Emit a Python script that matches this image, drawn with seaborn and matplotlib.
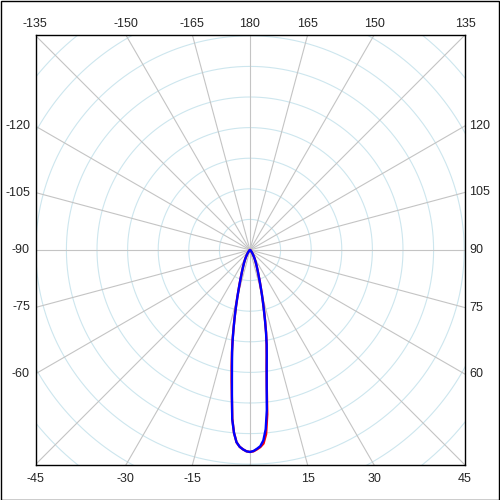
import numpy as np
import pandas as pd
import matplotlib
matplotlib.use("Agg")
import matplotlib.pyplot as plt
import seaborn as sns
from matplotlib.patches import Rectangle

sns.set_style("white")
plt.rcParams['font.family'] = ['Liberation Sans', 'DejaVu Sans']

# ---- data (intensity in cd, angle gamma in degrees, 0 = straight down) ----
angles = [-90, -70, -60, -50, -45, -40, -35, -30, -27.5, -25, -22.5, -20, -18, -17, -16,
          -15, -14, -13, -12, -11, -10, -9, -8, -7, -6, -5, -4, -3, -2, -1,
          0, 1, 2, 3, 4, 5, 6, 7, 8, 9, 10, 11, 12, 13, 14, 15, 16, 17, 18,
          20, 22.5, 25, 27.5, 30, 35, 40, 45, 50, 60, 70, 90]

blue_cd = [0, 2, 5, 13, 25, 41, 77, 133, 175, 228, 295, 390, 505, 585, 680,
           800, 940, 1100, 1280, 1480, 1680, 1880, 2120, 2420, 2780, 3000, 3150, 3220, 3260, 3290,
           3300, 3285, 3250, 3210, 3120, 2940, 2630, 2240, 1960, 1750, 1570, 1370, 1180, 1010, 870, 750, 640, 555, 480,
           375, 285, 220, 170, 130, 75, 40, 25, 13, 5, 2, 0]

red_cd = [0, 2, 5, 13, 25, 41, 77, 133, 175, 228, 295, 390, 505, 585, 680,
          800, 940, 1100, 1280, 1490, 1700, 1920, 2160, 2430, 2770, 3000, 3150, 3220, 3260, 3290,
          3300, 3290, 3260, 3225, 3170, 3020, 2700, 2250, 1950, 1740, 1560, 1380, 1190, 1020, 875, 750, 640, 555, 480,
          375, 285, 220, 170, 130, 75, 40, 25, 13, 5, 2, 0]

grid_step = 500
grid_radii = [500, 1000, 1500, 2000, 2500, 3000, 3500, 4000, 4500, 5000]
spoke_angles = list(range(-180, 180, 15))

top_labels = [-135, -150, -165, 180, 165, 150, 135]
left_labels = [-120, -105, -90, -75, -60]
right_labels = [120, 105, 90, 75, 60]
bottom_labels = [-45, -30, -15, 15, 30, 45]

# ---- geometry ----
px = grid_step / 30.6          # cd per pixel
xmin, xmax = -214 * px, 215 * px
ymin, ymax = -215 * px, 215 * px


def to_xy(ang, r):
    a = np.deg2rad(np.asarray(ang, dtype=float))
    r = np.asarray(r, dtype=float)
    return r * np.sin(a), -r * np.cos(a)


fig = plt.figure(figsize=(5, 5), dpi=100)
ax = fig.add_axes([36 / 500, 35 / 500, 429 / 500, 430 / 500])
ax.set_xlim(xmin, xmax)
ax.set_ylim(ymin, ymax)
ax.set_aspect('auto')

# circles
t = np.linspace(0, 360, 721)
for rr in grid_radii:
    gx, gy = to_xy(t, np.full_like(t, rr))
    ax.plot(gx, gy, color='#cde6ee', lw=0.8, zorder=1)

# spokes
for a in spoke_angles:
    sx, sy = to_xy([a, a], [0, 6000])
    ax.plot(sx, sy, color='#c4c4c4', lw=0.8, zorder=2)

# curves
for vals, col in [(red_cd, '#ff0000'), (blue_cd, '#0000ff')]:
    cx, cy = to_xy(angles, vals)
    df = pd.DataFrame({'x': cx, 'y': cy})
    sns.lineplot(data=df, x='x', y='y', sort=False, estimator=None, color=col,
                 lw=1.7, ax=ax, zorder=3)

ax.set_xticks([])
ax.set_yticks([])
ax.set_xlabel('')
ax.set_ylabel('')
for s in ax.spines.values():
    s.set_visible(True)
    s.set_color('black')
    s.set_linewidth(1.0)

fs = 9
for a in top_labels:
    x = ymax * np.tan(np.deg2rad(180 - a))
    ax.annotate(str(a), (x, ymax), xytext=(0, 5), textcoords='offset pixels',
                ha='center', va='bottom', fontsize=fs, annotation_clip=False)
for a in bottom_labels:
    x = -ymin * np.tan(np.deg2rad(a))
    ax.annotate(str(a), (x, ymin), xytext=(0, -8), textcoords='offset pixels',
                ha='center', va='top', fontsize=fs, annotation_clip=False)
for a in left_labels:
    y = -xmin * np.tan(np.deg2rad(-a - 90))
    ax.annotate(str(a), (xmin, y), xytext=(-6, 0), textcoords='offset pixels',
                ha='right', va='center', fontsize=fs, annotation_clip=False)
for a in right_labels:
    y = xmax * np.tan(np.deg2rad(a - 90))
    ax.annotate(str(a), (xmax, y), xytext=(4, 0), textcoords='offset pixels',
                ha='left', va='center', fontsize=fs, annotation_clip=False)

fig.patches.append(Rectangle((0.001, 0.001), 0.997, 0.997, transform=fig.transFigure,
                             fill=False, edgecolor='black', lw=1.0))

fig.savefig('out.png', dpi=100)
